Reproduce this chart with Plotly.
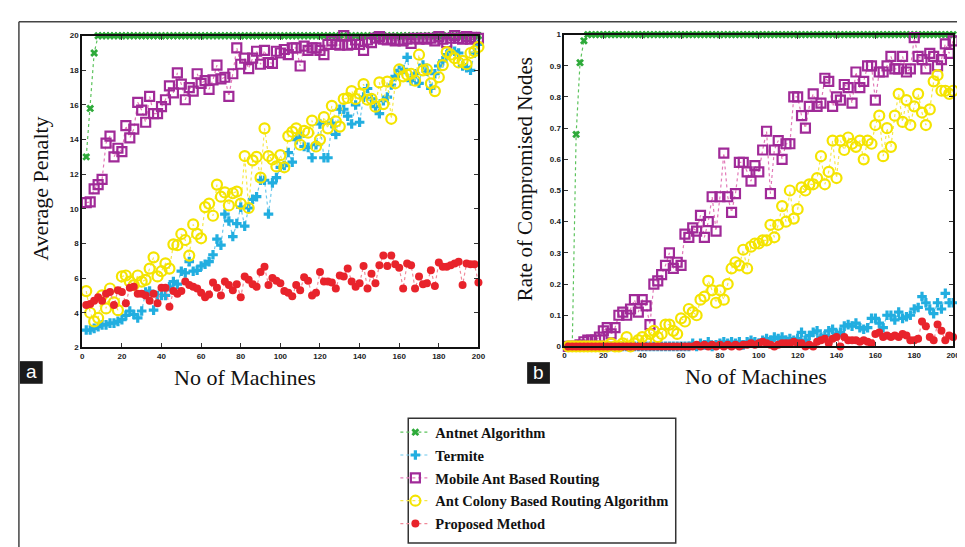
import plotly.graph_objects as go

machines = list(range(2, 202, 2))

# ---------- Panel a: Average Penalty ----------
a_antnet = [13.0, 15.8, 19.0, 20, 20, 20, 20, 20, 20, 20,
            20, 20, 20, 20, 20, 20, 20, 20, 20, 20,
            20, 20, 20, 20, 20, 20, 20, 20, 20, 20,
            20, 20, 20, 20, 20, 20, 20, 20, 20, 20,
            20, 20, 20, 20, 20, 20, 20, 20, 20, 20,
            20, 20, 20, 20, 20, 20, 20, 20, 20, 20,
            20, 20, 20, 20, 20, 20, 20, 20, 20, 20,
            20, 20, 20, 20, 20, 20, 20, 20, 20, 20,
            20, 20, 20, 20, 20, 20, 20, 20, 20, 20,
            20, 20, 20, 20, 20, 20, 20, 20, 20, 20]
a_termite = [3.0, 3.0, 3.1, 3.2, 3.3, 3.3, 3.4, 3.4, 3.5, 3.6,
             3.85, 4.1, 3.9, 3.7, 4.1, 5.2, 5.25, 4.15, 5.0, 5.0,
             5.0, 5.5, 5.8, 5.65, 6.4, 6.3, 6.95, 6.4, 6.45, 6.7,
             6.8, 6.95, 7.35, 8.25, 7.9, 9.7, 9.3, 8.4, 9.15, 10.1,
             9.0, 10.05, 10.55, 10.7, 11.65, 11.65, 9.7, 11.5, 11.8, 12.4,
             12.5, 13.25, 12.7, 14.0, 14.2, 13.6, 13.55, 12.95, 13.7, 14.9,
             12.95, 12.95, 14.95, 14.3, 15.75, 15.75, 15.35, 14.9, 16.0, 15.0,
             16.45, 16.95, 16.35, 15.9, 15.5, 16.25, 16.45, 17.15, 17.65, 18.0,
             18.05, 18.75, 17.4, 17.8, 17.25, 18.3, 17.95, 16.95, 17.8, 18.25,
             18.55, 18.9, 19.15, 19.1, 19.0, 18.25, 18.15, 18.0, 19.0, 19.5]
a_mobile = [10.36, 10.4, 11.15, 11.4, 11.7, 13.8, 14.2, 13.0, 13.5, 13.3,
            14.8, 14.1, 14.6, 16.15, 15.7, 15.0, 16.5, 15.5, 15.5, 15.9,
            16.3, 17.1, 16.7, 17.85, 17.2, 16.3, 17.0, 16.8, 17.8, 17.25,
            17.4, 16.9, 17.45, 18.3, 17.5, 17.6, 16.5, 17.8, 19.3, 18.35,
            18.7, 18.1, 18.7, 19.1, 18.35, 19.15, 18.45, 18.4, 19.1, 19.0,
            19.2, 18.9, 19.3, 19.3, 18.25, 19.4, 19.15, 19.3, 19.3, 19.15,
            18.9, 19.5, 19.7, 19.5, 19.45, 20.0, 19.45, 19.5, 19.75, 19.5,
            19.15, 19.75, 19.6, 19.85, 19.95, 19.8, 19.75, 19.8, 19.7, 19.75,
            19.7, 19.8, 19.55, 19.85, 19.8, 19.85, 19.8, 19.85, 19.7, 19.95,
            19.8, 19.6, 19.85, 20.0, 19.85, 19.8, 19.95, 19.8, 19.9, 19.85]
a_colony = [5.25, 4.0, 3.5, 3.7, 5.0, 4.25, 5.4, 4.6, 4.15, 6.1,
            6.15, 5.8, 5.6, 6.15, 5.8, 5.9, 6.55, 7.2, 6.1, 6.4,
            6.85, 6.55, 7.95, 7.9, 8.55, 8.2, 7.3, 9.1, 8.55, 8.3,
            10.1, 10.3, 9.6, 11.4, 10.7, 10.95, 10.2, 10.9, 11.0, 10.3,
            13.05, 10.05, 12.8, 13.0, 11.8, 14.65, 13.05, 12.85, 12.45, 13.1,
            12.4, 14.2, 14.45, 14.65, 13.7, 14.5, 14.4, 15.1, 13.6, 14.0,
            15.3, 14.65, 15.95, 15.05, 14.75, 16.35, 16.4, 16.8, 16.35, 16.65,
            17.2, 16.3, 16.35, 15.9, 17.3, 16.05, 17.35, 15.2, 17.25, 18.05,
            17.65, 17.75, 17.8, 17.4, 18.9, 18.0, 18.05, 17.25, 16.8, 17.6,
            18.3, 19.05, 18.9, 18.7, 18.45, 18.55, 18.35, 19.0, 19.1, 19.35]
a_proposed = [4.45, 4.5, 4.7, 4.9, 4.7, 5.1, 5.2, 4.45, 5.3, 5.2,
              4.55, 5.45, 5.5, 5.1, 5.1, 5.0, 4.7, 5.1, 4.55, 5.45,
              5.45, 4.35, 5.25, 5.1, 5.25, 5.8, 5.6, 5.5, 5.4, 5.15,
              4.9, 5.05, 5.75, 5.45, 5.0, 5.8, 5.6, 5.3, 5.65, 4.9,
              6.1, 5.9, 5.65, 5.5, 6.35, 6.65, 5.6, 6.0, 5.85, 5.7,
              5.25, 5.15, 4.95, 5.6, 5.3, 6.05, 5.85, 5.0, 5.15, 6.35,
              5.8, 5.8, 5.75, 5.4, 6.15, 6.1, 6.55, 5.8, 5.5, 5.7,
              6.7, 5.4, 6.25, 5.7, 6.75, 7.3, 6.7, 7.3, 6.8, 6.6,
              5.4, 6.85, 6.75, 5.4, 6.1, 5.65, 5.7, 6.45, 5.55, 6.9,
              6.65, 6.65, 6.75, 6.85, 6.95, 5.6, 6.85, 6.8, 6.8, 5.75]

# ---------- Panel b: Rate of Compromised Nodes ----------
b_antnet = [0, 0, 0.68, 0.91, 0.98, 1, 1, 1, 1, 1,
            1, 1, 1, 1, 1, 1, 1, 1, 1, 1,
            1, 1, 1, 1, 1, 1, 1, 1, 1, 1,
            1, 1, 1, 1, 1, 1, 1, 1, 1, 1,
            1, 1, 1, 1, 1, 1, 1, 1, 1, 1,
            1, 1, 1, 1, 1, 1, 1, 1, 1, 1,
            1, 1, 1, 1, 1, 1, 1, 1, 1, 1,
            1, 1, 1, 1, 1, 1, 1, 1, 1, 1,
            1, 1, 1, 1, 1, 1, 1, 1, 1, 1,
            1, 1, 1, 1, 1, 1, 1, 1, 1, 1]
b_termite = [0, 0, 0, 0, 0, 0, 0, 0, 0, 0,
             0, 0, 0, 0, 0, 0, 0, 0, 0, 0,
             0, 0, 0, 0, 0, 0, 0, 0, 0, 0,
             0, 0, 0.01, 0, 0.01, 0.005, 0.015, 0, 0.005, 0.01,
             0.015, 0.01, 0.015, 0.01, 0.015, 0.005, 0.015, 0.02, 0.015, 0.01,
             0.02, 0.025, 0.02, 0.03, 0.025, 0.03, 0.02, 0.025, 0.02, 0.025,
             0.045, 0.02, 0.035, 0.045, 0.05, 0.03, 0.035, 0.05, 0.055, 0.04,
             0.045, 0.065, 0.07, 0.065, 0.075, 0.06, 0.055, 0.06, 0.09, 0.09,
             0.075, 0.06, 0.10, 0.10, 0.085, 0.11, 0.09, 0.095, 0.10, 0.12,
             0.125, 0.16, 0.14, 0.12, 0.105, 0.14, 0.12, 0.17, 0.14, 0.14]
b_mobile = [0, 0, 0, 0.005, 0.015, 0.02, 0.02, 0.02, 0.03, 0.05,
            0.06, 0.04, 0.06, 0.10, 0.11, 0.10, 0.12, 0.15, 0.11, 0.15,
            0.13, 0.07, 0.20, 0.21, 0.23, 0.26, 0.30, 0.25, 0.27, 0.26,
            0.36, 0.35, 0.38, 0.37, 0.42, 0.35, 0.40, 0.48, 0.37, 0.48,
            0.62, 0.48, 0.43, 0.49, 0.59, 0.59, 0.56, 0.53, 0.58, 0.56,
            0.63, 0.69, 0.49, 0.63, 0.66, 0.60, 0.65, 0.65, 0.80, 0.80,
            0.74, 0.70, 0.77, 0.81, 0.77, 0.78, 0.86, 0.85, 0.77, 0.80,
            0.79, 0.84, 0.83, 0.78, 0.88, 0.83, 0.85, 0.90, 0.90, 0.79,
            0.88, 0.88, 0.90, 0.93, 0.89, 0.89, 0.93, 0.88, 0.89, 0.99,
            0.93, 0.92, 0.89, 0.94, 0.93, 0.90, 0.92, 0.97, 0.94, 0.98]
b_colony = [0, 0, 0, 0, 0, 0, 0, 0, 0, 0,
            0, 0.01, 0, 0, 0.01, 0.03, 0, 0.01, 0.02, 0.03,
            0.02, 0.04, 0.05, 0.03, 0.04, 0.07, 0.07, 0.05, 0.04, 0.09,
            0.08, 0.12, 0.11, 0.10, 0.15, 0.16, 0.21, 0.18, 0.14, 0.18,
            0.15, 0.20, 0.25, 0.27, 0.26, 0.31, 0.25, 0.32, 0.33, 0.33,
            0.34, 0.34, 0.39, 0.35, 0.39, 0.45, 0.40, 0.50, 0.41, 0.44,
            0.51, 0.50, 0.52, 0.52, 0.54, 0.61, 0.52, 0.56, 0.66, 0.54,
            0.66, 0.63, 0.67, 0.65, 0.64, 0.66, 0.60, 0.66, 0.65, 0.71,
            0.74, 0.61, 0.70, 0.64, 0.74, 0.81, 0.72, 0.79, 0.71, 0.77,
            0.81, 0.75, 0.71, 0.76, 0.85, 0.87, 0.82, 0.82, 0.81, 0.82]
b_proposed = [0, 0, 0, 0, 0, 0, 0, 0, 0, 0,
              0, 0, 0, 0, 0, 0, 0, 0, 0, 0,
              0, 0, 0, 0, 0, 0, 0, 0, 0, 0,
              0, 0, 0, 0.005, 0, 0.005, 0, 0.005, 0, 0.005,
              0, 0.005, 0, 0.005, 0, 0.005, 0.005, 0.01, 0.005, 0.01,
              0.015, 0.01, 0.005, 0, 0.005, 0.01, 0.01, 0.01, 0.015, 0.01,
              0.01, 0, 0.005, 0, 0.015, 0.02, 0.025, 0.01, 0.025, 0.03,
              0, 0.03, 0.02, 0.02, 0.02, 0.015, 0.02, 0.015, 0.01, 0.04,
              0.045, 0.03, 0.035, 0.03, 0.035, 0.03, 0.04, 0.035, 0.02, 0.02,
              0.025, 0.08, 0.065, 0.03, 0.02, 0.07, 0.05, 0.02, 0.035, 0.03]

for s in (a_antnet, a_termite, a_mobile, a_colony, a_proposed,
          b_antnet, b_termite, b_mobile, b_colony, b_proposed):
    assert len(s) == len(machines), len(s)

series_names = ["Antnet Algorithm", "Termite", "Mobile Ant Based Routing",
                "Ant Colony Based Routing Algorithm", "Proposed Method"]
styles = [
    dict(symbol="x", size=7, color="#2eaa3a", line=dict(width=0), lc="#5cc35c"),
    dict(symbol="cross", size=8, color="#22aee0", line=dict(width=0), lc="#6cc8ec"),
    dict(symbol="square-open", size=9, color="#a02a98", line=dict(width=2.2, color="#a02a98"), lc="#e27ab8"),
    dict(symbol="circle-open", size=10, color="#f4e400", line=dict(width=2.2, color="#f4e400"), lc="#f6e84a"),
    dict(symbol="circle", size=8, color="#e8232b", line=dict(width=0), lc="#f08a9a"),
]

fig = go.Figure()
a_data = [a_antnet, a_termite, a_mobile, a_colony, a_proposed]
b_data = [b_antnet, b_termite, b_mobile, b_colony, b_proposed]
for i, name in enumerate(series_names):
    st = styles[i]
    mk = dict(symbol=st["symbol"], size=st["size"], color=st["color"], line=st["line"])
    fig.add_trace(go.Scatter(
        x=machines, y=a_data[i], name=name, mode="lines+markers",
        line=dict(color=st["lc"], width=1.2, dash="dot"), marker=mk,
        xaxis="x", yaxis="y", legendgroup=name, showlegend=True, cliponaxis=False))
for i, name in enumerate(series_names):
    st = styles[i]
    mk = dict(symbol=st["symbol"], size=st["size"], color=st["color"], line=st["line"])
    fig.add_trace(go.Scatter(
        x=machines, y=b_data[i], name=name, mode="lines+markers",
        line=dict(color=st["lc"], width=1.2, dash="dot"), marker=mk,
        xaxis="x2", yaxis="y2", legendgroup=name, showlegend=False, cliponaxis=False))

tickfont = dict(family="Arial", size=8, color="#222", weight="bold")
axis_common = dict(showgrid=False, zeroline=False, showline=True, linecolor="#111",
                   linewidth=2, mirror="ticks", ticks="inside", ticklen=4,
                   tickcolor="#333", tickwidth=1, tickfont=tickfont)

fig.update_layout(
    width=965, height=547,
    margin=dict(l=0, r=0, t=0, b=0),
    paper_bgcolor="white", plot_bgcolor="white",
    xaxis=dict(domain=[0.0756, 0.490], range=[0, 200], tickvals=list(range(0, 201, 20)),
               anchor="y", **axis_common),
    yaxis=dict(domain=[0.3766, 0.956], range=[2, 20], tickvals=list(range(2, 21, 2)),
               anchor="x", **axis_common),
    xaxis2=dict(domain=[0.580, 0.9865], range=[0, 200], tickvals=list(range(0, 201, 20)),
                anchor="y2", **axis_common),
    yaxis2=dict(domain=[0.3784, 0.958], range=[0, 1],
                tickvals=[0, 0.1, 0.2, 0.3, 0.4, 0.5, 0.6, 0.7, 0.8, 0.9, 1],
                ticktext=["0", "0.1", "0.2", "0.3", "0.4", "0.5", "0.6", "0.7", "0.8", "0.9", "1"],
                anchor="x2", **axis_common),
    showlegend=True,
    legend=dict(x=389/965, y=1-411/547, xanchor="left", yanchor="top",
                borderwidth=0, bgcolor="rgba(0,0,0,0)",
                font=dict(family="Liberation Serif", size=14.5, color="#111", weight="bold"),
                tracegroupgap=1, itemwidth=30),
)

title_font = dict(family="Liberation Serif", size=22, color="#111")
annotations = [
    dict(text="Average Penalty", x=30/965, y=1-180/547, textangle=-90, font=title_font),
    dict(text="No of Machines", x=237/965, y=1-372/547, font=title_font),
    dict(text="Rate of Compromised Nodes", x=520/965, y=1-170/547, textangle=-90,
         font=dict(family="Liberation Serif", size=21, color="#111")),
    dict(text="No of Machines", x=753/965, y=1-371/547, font=title_font),
    dict(text="a", x=21.5/965, y=1-366/547, font=dict(family="Arial", size=19, color="white")),
    dict(text="b", x=533.5/965, y=1-367/547, font=dict(family="Arial", size=19, color="white")),
]
for an in annotations:
    an.update(xref="paper", yref="paper", showarrow=False, xanchor="center", yanchor="middle")
fig.update_layout(annotations=annotations)

fig.update_layout(shapes=[
    dict(type="rect", xref="paper", yref="paper", x0=10/965, x1=33/965,
         y0=1-378/547, y1=1-355/547, fillcolor="#1a1a1a", line=dict(width=0), layer="below"),
    dict(type="rect", xref="paper", yref="paper", x0=522/965, x1=545/965,
         y0=1-378/547, y1=1-356/547, fillcolor="#1a1a1a", line=dict(width=0), layer="below"),
    dict(type="line", xref="paper", yref="paper", x0=9/965, x1=1, y0=1-10/547, y1=1-10/547,
         line=dict(color="#444", width=1.5)),
    dict(type="line", xref="paper", yref="paper", x0=9/965, x1=9/965, y0=0, y1=1-10/547,
         line=dict(color="#444", width=1.5)),
    dict(type="rect", xref="paper", yref="paper", x0=402/965, x1=672/965,
         y0=1-540/547, y1=1-413/547, line=dict(color="#333", width=1.5), layer="above"),
])

fig.write_html("out.html")
